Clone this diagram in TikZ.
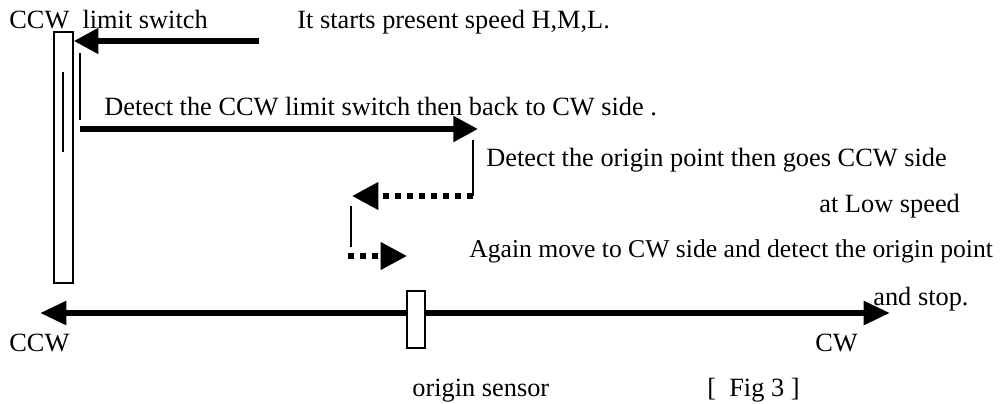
\documentclass[tikz,border=0pt]{standalone}
\usepackage{fontspec}
\setmainfont{Liberation Serif}
\usetikzlibrary{arrows.meta}
\begin{document}
\begin{tikzpicture}[x=0.02cm,y=-0.02cm,
  lbl/.style={anchor=base west,inner sep=0pt,font=\fontsize{15pt}{17pt}\selectfont},
  box/.style={draw,line width=0.9pt,fill=white,inner sep=0pt},
  thin/.style={line width=0.9pt},
  bigarrow/.style={line width=3.4pt,-{Triangle[length=14pt,width=14pt]}},
  dotarrow/.style={line width=3.4pt,dash pattern=on 3.4pt off 3.4pt,-{Triangle[length=15pt,width=15pt]}}]
\useasboundingbox (0,0) rectangle (1000,403);
% axis
\coordinate (axL) at (40,313);
\coordinate (axR) at (890,313);
\draw[line width=3.4pt,{Triangle[length=15pt,width=13pt]}-{Triangle[length=15pt,width=13pt]}] (axL) -- (axR);
% limit switch and origin sensor
\node[box,minimum width=0.38cm,minimum height=5.02cm] (ls) at (63.5,157.5) {};
\node[box,minimum width=0.36cm,minimum height=1.14cm] (os) at (416,319.5) {};
% inner lines
\coordinate (i1) at (63,72); \coordinate (i2) at (63,152);
\draw[thin] (i1) -- (i2);
\coordinate (v1) at (80,53); \coordinate (v2) at (80,120);
\draw[thin] (v1) -- (v2);
% arrow 1
\coordinate (a1s) at (259,41);
\draw[bigarrow] (a1s) -- (ls.east |- a1s);
% arrow 2
\coordinate (a2s) at (80,129); \coordinate (a2e) at (478,129);
\draw[bigarrow] (a2s) -- (a2e);
% turn down
\coordinate (t1) at (473,140); \coordinate (t2) at (473,196);
\draw[thin] (t1) -- (t2);
\coordinate (d1e) at (352,196);
\draw[dotarrow] (t2) -- (d1e);
\coordinate (t3) at (351,206); \coordinate (t4) at (351,247);
\draw[thin] (t3) -- (t4);
\coordinate (d2s) at (348,256); \coordinate (d2e) at (407,256);
\draw[dotarrow] (d2s) -- (d2e);
% texts
\node[lbl] (tls) at (9,28) {CCW\ \ limit switch};
\node[lbl] (t1l) at (297,28) {It starts present speed H,M,L.};
\node[lbl] (t2l) at (104,115) {Detect the CCW limit switch then back to CW side .};
\node[lbl] (t3l) at (486,166) {Detect the origin point then goes CCW side};
\node[lbl] (t4l) at (819,212) {at Low speed};
\node[lbl,font=\fontsize{14.6pt}{17pt}\selectfont] (t5l) at (469,257) {Again move to CW side and detect the origin point};
\node[lbl] (t6l) at (873,305) {and stop.};
\node[lbl] (tccw) at (9,351) {CCW};
\node[lbl] (tcw) at (815,351) {CW};
\node[lbl] (tos) at (412,396) {origin sensor};
\node[lbl] (tfig) at (707,396) {[\ \ Fig 3 ]};
\end{tikzpicture}
\end{document}
